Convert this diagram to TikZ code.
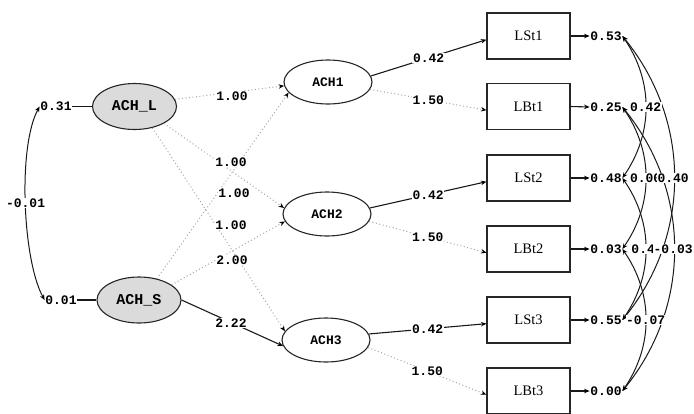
\documentclass[tikz,border=0pt]{standalone}
\usepackage{fontspec}
\setmainfont{Liberation Serif}
\setmonofont{Liberation Mono}
\usetikzlibrary{arrows.meta,shapes.geometric}
\begin{document}
\begin{tikzpicture}[x=1pt,y=-1pt,
  >={Stealth[length=5.5pt,width=4.5pt,color=black]},
  box/.style={draw=black!85, line width=1.1pt, minimum width=83pt, minimum height=46pt, inner sep=0pt, font=\fontsize{14.5}{16}\selectfont},
  lat/.style={ellipse, draw=black!85, line width=1.1pt, minimum width=88pt, minimum height=44pt, inner sep=0pt, font=\ttfamily\bfseries\fontsize{13}{15}\selectfont},
  latf/.style={lat, fill=black!14, minimum width=84pt, minimum height=46pt, font=\ttfamily\bfseries\fontsize{15}{17}\selectfont},
  num/.style={inner sep=0.6pt, font=\ttfamily\bfseries\fontsize{13}{14}\selectfont},
  lab/.style={num, fill=white},
  fixed/.style={->, draw=black!35, line width=1pt, dash pattern=on 1pt off 2.5pt},
  free/.style={->, draw=black!90, line width=1.1pt},
  cov/.style={<->, draw=black!90, line width=1pt},
  link/.style={draw=black!90, line width=1.1pt}]
\useasboundingbox (0,0) rectangle (694,413);

% latent variables
\node[latf] (L) at (134.5,106.5) {ACH\_L};
\node[latf] (S) at (139,300) {ACH\_S};
\node[lat] (A1) at (328,82) {ACH1};
\node[lat] (A2) at (327,214) {ACH2};
\node[lat] (A3) at (326,340) {ACH3};

% observed variables
\node[box] (B1) at (528.5,36) {LSt1};
\node[box] (B2) at (528.5,106.5) {LBt1};
\node[box] (B3) at (528.5,178) {LSt2};
\node[box] (B4) at (528.5,249) {LBt2};
\node[box] (B5) at (528.5,320) {LSt3};
\node[box] (B6) at (528.5,391) {LBt3};

% variances of latent factors
\node[num] (v1) at (56,106.5) {0.31};
\node[num] (v2) at (61,300) {0.01};
\draw[link] (v1.east) -- (L.west);
\draw[link] (v2.east) -- (S.west);
\draw[cov] (v1.west) .. controls +(-22,40) and +(-22,-40) .. (v2.west) coordinate[pos=0.5] (m0);
\node[lab] (k0) at (m0) {-0.01};

% loadings of latent factors
\draw[fixed] (L.10) -- (A1.185);
\draw[fixed] (L.-30) -- (A2.172);
\draw[fixed] (L.-50) -- (A3.168);
\draw[fixed] (S.50) -- (A1.195);
\draw[fixed] (S.25) -- (A2.190);
\draw[free] (S.east) -- (A3.188);
\node[lab] (l1) at (232,96) {1.00};
\node[lab] (l2) at (231,162) {1.00};
\node[lab] (l3) at (234,193) {1.00};
\node[lab] (l4) at (231,225) {1.00};
\node[lab] (l5) at (232,260) {2.00};
\node[lab] (l6) at (231,323) {2.22};

% loadings on indicators
\draw[free] (A1.8) -- (B1.185) node[lab, pos=0.5] (p1) {0.42};
\draw[fixed] (A1.-10) -- (B2.185) node[lab, pos=0.5] (p2) {1.50};
\draw[free] (A2.8) -- (B3.185) node[lab, pos=0.5] (p3) {0.42};
\draw[fixed] (A2.-10) -- (B4.185) node[lab, pos=0.5] (p4) {1.50};
\draw[free] (A3.8) -- (B5.185) node[lab, pos=0.5] (p5) {0.42};
\draw[fixed] (A3.-10) -- (B6.185) node[lab, pos=0.5] (p6) {1.50};

% error variances
\node[num] (e1) at (606,36) {0.53};
\node[num] (e2) at (606,107) {0.25};
\node[num] (e3) at (606,178) {0.48};
\node[num] (e4) at (606,249) {0.03};
\node[num] (e5) at (606,320) {0.55};
\node[num] (e6) at (606,391) {0.00};
\foreach \i in {1,...,6} { \draw[free] (B\i.east) -- (e\i.west); }

% error covariances
\draw[cov] (e1.east) .. controls +(31,45) and +(31,-45) .. (e3.east) coordinate[pos=0.5] (m13);
\draw[cov] (e2.east) .. controls +(31,45) and +(31,-45) .. (e4.east) coordinate[pos=0.5] (m24);
\draw[cov] (e3.east) .. controls +(31,45) and +(31,-45) .. (e5.east) coordinate[pos=0.5] (m35);
\draw[cov] (e4.east) .. controls +(31,45) and +(31,-45) .. (e6.east) coordinate[pos=0.5] (m46);
\draw[cov] (e1.east) .. controls +(69,85) and +(69,-85) .. (e5.east) coordinate[pos=0.5] (m15);
\draw[cov] (e2.east) .. controls +(69,85) and +(69,-85) .. (e6.east) coordinate[pos=0.5] (m26);
\node[lab] (c13) at (m13) {0.42};
\node[lab] (c24) at (m24) {0.00};
\node[lab] (c15) at ([xshift=-1pt]m15) {0.40};
\node[lab, anchor=west] (c35) at ([xshift=-15pt]m35) {0.4};
\node[lab] (c26) at ([xshift=-1pt]m26) {-0.03};
\node[lab] (c46) at (m46) {-0.07};
\end{tikzpicture}
\end{document}
